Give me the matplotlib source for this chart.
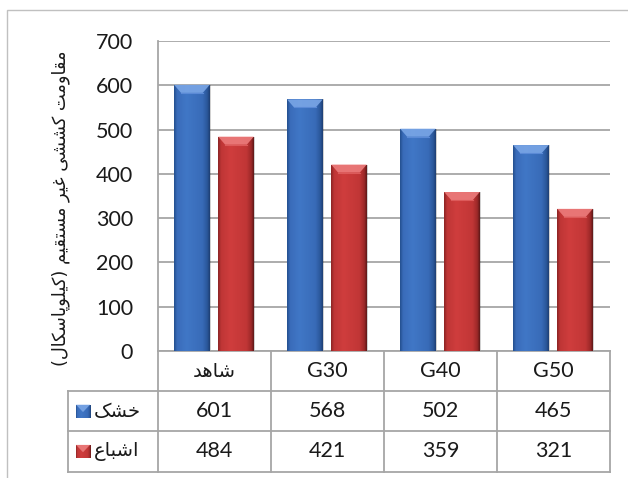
import numpy as np
import matplotlib
matplotlib.use("Agg")
import matplotlib.pyplot as plt
from matplotlib.patches import Rectangle, Polygon
from matplotlib.colors import LinearSegmentedColormap

# ---- data ----
categories = ["شاهد", "G30", "G40", "G50"]
series_names = ["خشک", "اشباع"]
dry_values = [601, 568, 502, 465]
saturated_values = [484, 421, 359, 321]
y_ticks = [0, 100, 200, 300, 400, 500, 600, 700]
y_label = "مقاومت کششی غیر مستقیم (کیلوپاسکال)"

# ---- minimal Arabic/Persian shaping (presentation forms, visual order) ----
FORMS = {
    "ا": ("\uFE8D", "\uFE8E", None, None),
    "ب": ("\uFE8F", "\uFE90", "\uFE91", "\uFE92"),
    "ت": ("\uFE95", "\uFE96", "\uFE97", "\uFE98"),
    "خ": ("\uFEA5", "\uFEA6", "\uFEA7", "\uFEA8"),
    "د": ("\uFEA9", "\uFEAA", None, None),
    "ر": ("\uFEAD", "\uFEAE", None, None),
    "س": ("\uFEB1", "\uFEB2", "\uFEB3", "\uFEB4"),
    "ش": ("\uFEB5", "\uFEB6", "\uFEB7", "\uFEB8"),
    "ع": ("\uFEC9", "\uFECA", "\uFECB", "\uFECC"),
    "غ": ("\uFECD", "\uFECE", "\uFECF", "\uFED0"),
    "ق": ("\uFED5", "\uFED6", "\uFED7", "\uFED8"),
    "ل": ("\uFEDD", "\uFEDE", "\uFEDF", "\uFEE0"),
    "م": ("\uFEE1", "\uFEE2", "\uFEE3", "\uFEE4"),
    "ه": ("\uFEE9", "\uFEEA", "\uFEEB", "\uFEEC"),
    "و": ("\uFEED", "\uFEEE", None, None),
    "پ": ("\uFB56", "\uFB57", "\uFB58", "\uFB59"),
    "ک": ("\uFB8E", "\uFB8F", "\uFB90", "\uFB91"),
    "ی": ("\uFBFC", "\uFBFD", "\uFBFE", "\uFBFF"),
}


def shape(text):
    if not any(c in FORMS for c in text):
        return text
    out = []
    n = len(text)
    for i, c in enumerate(text):
        if c not in FORMS:
            out.append(c)
            continue
        f = FORMS[c]
        prev = text[i - 1] if i > 0 else None
        nxt = text[i + 1] if i < n - 1 else None
        jp = prev in FORMS and FORMS[prev][2] is not None
        jn = f[2] is not None and nxt in FORMS
        if jp and jn:
            out.append(f[3])
        elif jp:
            out.append(f[1])
        elif jn:
            out.append(f[2])
        else:
            out.append(f[0])
    vis = "".join(out)[::-1]
    return vis.translate(str.maketrans("()", ")("))


W, H = 628, 478
fig = plt.figure(figsize=(W / 100, H / 100), dpi=100)
fig.patch.set_facecolor("white")

NUM_FONT = "Lato"
FA_FONT = "DejaVu Sans"
GRID = "#a6a6a6"


def fx(px):
    return px / W


def fy(py):
    return 1 - py / H


# outer chart frame
fig.add_artist(Rectangle((fx(7), -0.1), 1.2, fy(10) + 0.1, transform=fig.transFigure,
                         fill=False, ec="#c0c0c0", lw=1.0))

# ---- plot area ----
pl, pr, pt, pb = 158, 610, 41, 351
ax = fig.add_axes([fx(pl), fy(pb), fx(pr - pl), (pb - pt) / H])
ncat = len(categories)
ax.set_xlim(-0.5, ncat - 0.5)
ax.set_ylim(0, 700)
ax.set_yticks(y_ticks)
ax.set_yticklabels([str(t) for t in y_ticks], fontfamily=NUM_FONT, fontsize=15.5, color="#1a1a1a")
ax.tick_params(axis="y", length=0, pad=18)
ax.set_xticks([])
ax.grid(axis="y", color=GRID, lw=1.3)
ax.set_axisbelow(True)
for s in ["top", "right"]:
    ax.spines[s].set_visible(False)
ax.spines["left"].set_color(GRID)
ax.spines["left"].set_linewidth(1.3)
ax.spines["bottom"].set_color(GRID)
ax.spines["bottom"].set_linewidth(1.3)

ax.text(-0.5 - 97 / 113, 323, shape(y_label), rotation=90, ha="center", va="center",
        fontfamily=FA_FONT, fontsize=12.8, color="#1a1a1a", clip_on=False)

x = np.arange(ncat)
bw = 0.315
offsets = [-0.2, 0.19]

blue_cmap = LinearSegmentedColormap.from_list(
    "b", [(0, "#24508f"), (0.08, "#3a6cba"), (0.35, "#4077c6"), (0.8, "#386bb8"), (0.94, "#2a5698"), (1, "#1d3f73")])
red_cmap = LinearSegmentedColormap.from_list(
    "r", [(0, "#8c2424"), (0.08, "#bf3636"), (0.35, "#cf3d3d"), (0.8, "#c13636"), (0.94, "#9a2828"), (1, "#5e1818")])
bevel_colors = ["#7aa6e6", "#ec7c7c"]
bevel_edge = ["#5b8ad6", "#dc5a5a"]
cmaps = [blue_cmap, red_cmap]
grad = np.linspace(0, 1, 64).reshape(1, -1)

# pixel size in data units
ppx = (ax.transData.inverted().transform((1, 0)) - ax.transData.inverted().transform((0, 0)))[0]
ppy = (ax.transData.inverted().transform((0, 1)) - ax.transData.inverted().transform((0, 0)))[1]

for k, vals in enumerate([dry_values, saturated_values]):
    bars = ax.bar(x + offsets[k], vals, width=bw, color="none", ec="none", zorder=2)
    for b in bars:
        x0, w, h = b.get_x(), b.get_width(), b.get_height()
        im = ax.imshow(grad, extent=(x0, x0 + w, 0, h), aspect="auto", cmap=cmaps[k],
                       interpolation="bicubic", zorder=3)
        im.set_clip_path(b)
        bv_x, bv_y = 7 * ppx, 8 * ppy
        top = Polygon([(x0, h), (x0 + w, h), (x0 + w - bv_x, h - bv_y), (x0 + bv_x, h - bv_y)],
                      closed=True, fc=bevel_colors[k], ec="none", zorder=4, alpha=0.9)
        ax.add_patch(top)
        ax.plot([x0 + bv_x, x0 + w - bv_x], [h - bv_y, h - bv_y], color=bevel_edge[k], lw=0.8, zorder=4)
        # soft shadow on the right side of the bar
        ax.add_patch(Rectangle((x0 + w, 0), 1.5 * ppx, h, fc="#000000", alpha=0.18, ec="none", zorder=2))
ax.set_xlim(-0.5, ncat - 0.5)
ax.set_ylim(0, 700)

# ---- data table ----
tl, tr, tt, tb = 68, 610, 351, 471.5
tax = fig.add_axes([fx(tl), fy(tb), fx(tr - tl), (tb - tt) / H])
leg_w = (pl - tl) / ((pr - pl) / ncat)
tax.set_xlim(-0.5 - leg_w, ncat - 0.5)
tax.set_ylim(3, 0)
tax.axis("off")

for yy in [1, 2, 3]:
    tax.plot([-0.5 - leg_w, ncat - 0.5], [yy, yy], color=GRID, lw=1.3, clip_on=False)
for xx in np.arange(-0.5, ncat, 1.0):
    tax.plot([xx, xx], [0, 3], color=GRID, lw=1.3, clip_on=False)
tax.plot([-0.5 - leg_w, -0.5 - leg_w], [1, 3], color=GRID, lw=1.3, clip_on=False)

for i, c in enumerate(categories):
    is_fa = any(ch in FORMS for ch in c)
    tax.text(i, 0.5, shape(c), ha="center", va="center", fontsize=14 if is_fa else 15.5,
             fontfamily=FA_FONT if is_fa else NUM_FONT, color="#1a1a1a")
for r, vals in enumerate([dry_values, saturated_values]):
    for i, v in enumerate(vals):
        tax.text(i, 1.5 + r, str(v), ha="center", va="center", fontsize=15.5,
                 fontfamily=NUM_FONT, color="#1a1a1a")

# legend keys inside the table
for r, name in enumerate(series_names):
    kx0 = -0.5 - leg_w + 8 * ppx
    ky = 1.5 + r
    kw = 14 * ppx
    kh_rows = 13 / 40.0
    key = Rectangle((kx0, ky - kh_rows / 2), kw, kh_rows, fc="none", ec="none")
    tax.add_patch(key)
    im = tax.imshow(grad, extent=(kx0, kx0 + kw, ky + kh_rows / 2, ky - kh_rows / 2), aspect="auto",
                    cmap=cmaps[r], zorder=3)
    im.set_clip_path(key)
    tax.add_patch(Polygon([(kx0, ky - kh_rows / 2), (kx0 + kw, ky - kh_rows / 2),
                           (kx0 + kw / 2, ky + 0.02)], closed=True, fc=bevel_colors[r], ec="none",
                          zorder=4, alpha=0.9))
    tax.text(kx0 + kw + 4 * ppx, ky, shape(name), ha="left", va="center", fontsize=14,
             fontfamily=FA_FONT, color="#1a1a1a")
tax.set_xlim(-0.5 - leg_w, ncat - 0.5)
tax.set_ylim(3, 0)

fig.savefig("out.png", dpi=100, facecolor="white")
